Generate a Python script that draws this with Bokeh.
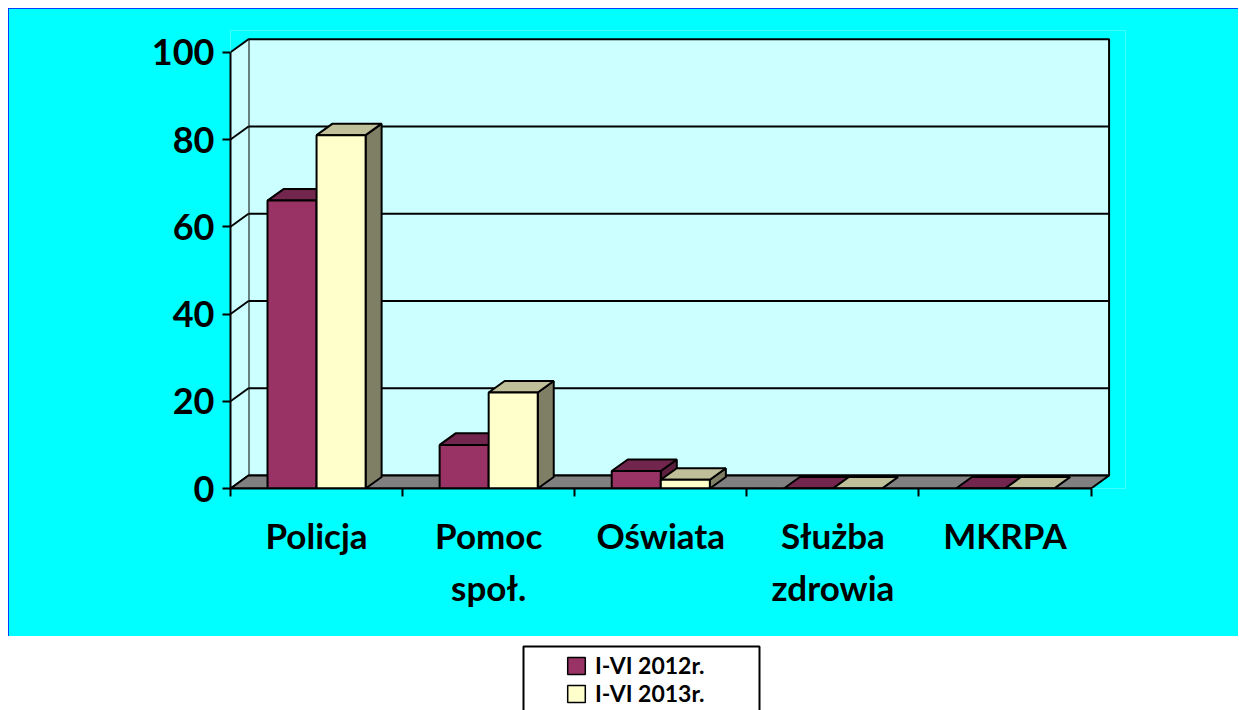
from bokeh.plotting import figure
from bokeh.models import (Range1d, FixedTicker, LinearAxis, ColumnDataSource,
                          Legend, LegendItem, BoxAnnotation)
from bokeh.layouts import column
from bokeh.embed import file_html
from bokeh.resources import INLINE

# ---------------- data ----------------
categories = ["Policja", "Pomoc", "Oświata", "Służba", "MKRPA"]
categories_line2 = ["", "społ.", "", "zdrowia", ""]
series_names = ["I-VI 2012r.", "I-VI 2013r."]
values_2012 = [66, 10, 4, 0, 0]
values_2013 = [81, 22, 2, 0, 0]
y_ticks = [0, 20, 40, 60, 80, 100]

# ---------------- styles ----------------
FONT = "Lato"
OUTER = "#00FFFF"
WALL = "#CCFFFF"
FLOOR = "#808080"
front_colors = ["#993366", "#FFFFCC"]
top_colors = ["#73264D", "#BFBF99"]
side_colors = ["#5C1F3D", "#7F7F66"]

n = len(categories)
ymax = y_ticks[-1]
wdx, wdy = 0.1046, 2.98     # depth of walls (data units)
bdx, bdy = 0.093, 2.64      # depth of bars (data units)
bw = 0.285                  # bar width (category units)

BL, BR = 222, 113           # left / right borders shared by both panels

p = figure(width=1230, height=628, x_range=Range1d(0, 5.2), y_range=Range1d(0, 105),
           output_backend="svg", toolbar_location=None,
           min_border_left=BL, min_border_right=BR, min_border_top=22,
           min_border_bottom=148, x_axis_location=None, y_axis_location=None)
p.background_fill_color = OUTER
p.border_fill_color = OUTER
p.outline_line_color = None
p.xgrid.visible = False
p.ygrid.visible = False
p.styles = {"outline": "2px solid #0000FF", "outline-offset": "-2px"}

# back wall
p.patches(xs=[[wdx, n + wdx, n + wdx, wdx]],
          ys=[[wdy, wdy, ymax + wdy, ymax + wdy]],
          fill_color=WALL, line_color="black", line_width=2)
# left wall
p.patches(xs=[[0, wdx, wdx, 0]], ys=[[0, wdy, ymax + wdy, ymax]],
          fill_color=WALL, line_color=None)
# grid lines on back wall
p.multi_line(xs=[[wdx, n + wdx] for t in y_ticks[1:-1]],
             ys=[[t + wdy, t + wdy] for t in y_ticks[1:-1]],
             line_color="black", line_width=2)
# diagonals on left wall
p.multi_line(xs=[[0, wdx] for t in y_ticks],
             ys=[[t, t + wdy] for t in y_ticks],
             line_color="black", line_width=2)
# floor
p.patches(xs=[[0, n, n + wdx, wdx]], ys=[[0, 0, wdy, wdy]],
          fill_color=FLOOR, line_color="black", line_width=2)

# bars (side, top, front for each, drawn left to right)
bxs, bys, bcol = [], [], []
for i in range(n):
    for s, vals in enumerate([values_2012, values_2013]):
        v = vals[i]
        x0 = i + 0.5 - bw if s == 0 else i + 0.5
        x1 = x0 + bw
        bxs.append([x1, x1 + bdx, x1 + bdx, x1]); bys.append([0, bdy, v + bdy, v]); bcol.append(side_colors[s])
        bxs.append([x0, x1, x1 + bdx, x0 + bdx]); bys.append([v, v, v + bdy, v + bdy]); bcol.append(top_colors[s])
        bxs.append([x0, x1, x1, x0]); bys.append([0, 0, v, v]); bcol.append(front_colors[s])
p.patches(xs="xs", ys="ys", fill_color="c", line_color="black", line_width=2,
          source=ColumnDataSource(dict(xs=bxs, ys=bys, c=bcol)))

# axes
yax = LinearAxis(ticker=FixedTicker(ticks=y_ticks), bounds=(0, ymax),
                 major_tick_out=8, major_tick_in=0, minor_tick_out=0, minor_tick_in=0,
                 axis_line_width=2, major_tick_line_width=2,
                 major_label_standoff=8, major_label_text_font=FONT,
                 major_label_text_font_style="bold", major_label_text_font_size="36px",
                 major_label_text_color="black")
p.add_layout(yax, "left")

centers = [i + 0.5 for i in range(n)]
bounds_ticks = [i for i in range(n + 1)]
xax1 = LinearAxis(ticker=FixedTicker(ticks=centers, minor_ticks=bounds_ticks), bounds=(0, n),
                  major_label_overrides={c: lab for c, lab in zip(centers, categories)},
                  major_tick_out=8, major_tick_in=0, major_tick_line_color=None,
                  minor_tick_out=8, minor_tick_in=0, minor_tick_line_width=2,
                  minor_tick_line_color="black", axis_line_width=2,
                  major_label_standoff=17, major_label_text_font=FONT,
                  major_label_text_font_style="bold", major_label_text_font_size="35px",
                  major_label_text_color="black")
p.add_layout(xax1, "below")
c2 = [c for c, lab in zip(centers, categories_line2) if lab]
xax2 = LinearAxis(ticker=FixedTicker(ticks=c2),
                  major_label_overrides={c: lab for c, lab in zip(centers, categories_line2) if lab},
                  axis_line_color=None, major_tick_line_color=None, minor_tick_line_color=None,
                  major_tick_out=0, major_tick_in=0, minor_tick_out=0, minor_tick_in=0,
                  major_label_standoff=7, major_label_text_font=FONT,
                  major_label_text_font_style="bold", major_label_text_font_size="35px",
                  major_label_text_color="black")
p.add_layout(xax2, "below")

# legend panel (1 unit = 1 px)
P2H = 74
p2 = figure(width=1230, height=P2H, x_range=Range1d(0, 1230 - BL - BR), y_range=Range1d(0, P2H),
            output_backend="svg", toolbar_location=None,
            min_border_left=BL, min_border_right=BR, min_border_top=0, min_border_bottom=0,
            x_axis_location=None, y_axis_location=None)
p2.background_fill_color = "white"
p2.border_fill_color = "white"
p2.outline_line_color = None
p2.xgrid.visible = False
p2.ygrid.visible = False
p2.add_layout(BoxAnnotation(left=293, right=529, bottom=-10, top=64, fill_color="white",
                            fill_alpha=1, line_color="black", line_width=2, line_alpha=1))
r1 = p2.quad(left=[5000], right=[5001], bottom=[5000], top=[5001], fill_color=front_colors[0],
             line_color="black", line_width=1.5)
r2 = p2.quad(left=[5000], right=[5001], bottom=[5000], top=[5001], fill_color=front_colors[1],
             line_color="black", line_width=1.5)
for lab, r, ly in [(series_names[0], r1, 28), (series_names[1], r2, 0)]:
    lg = Legend(items=[LegendItem(label=lab, renderers=[r])],
                location=(335, ly), orientation="vertical", border_line_color=None,
                background_fill_alpha=0, padding=0, margin=0, spacing=0,
                glyph_width=22, glyph_height=21, label_standoff=8, label_height=34,
                label_text_font=FONT, label_text_font_style="bold",
                label_text_font_size="23px", label_text_color="black")
    p2.add_layout(lg)

layout = column(p, p2, spacing=0)
layout.margin = (8, 0, 0, 8)
open("out.html", "w").write(file_html(layout, INLINE))
